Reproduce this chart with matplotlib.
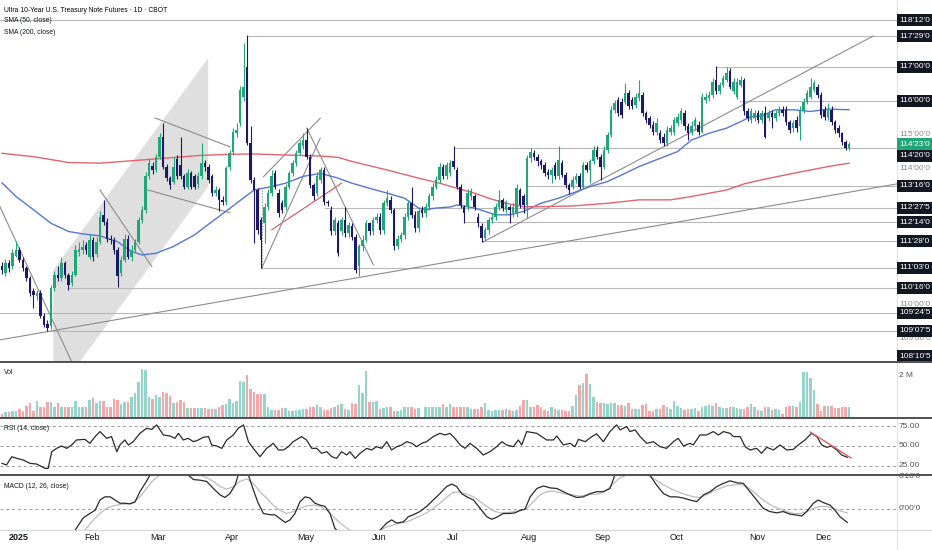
import matplotlib
matplotlib.use("Agg")
import matplotlib.pyplot as plt
import numpy as np
from matplotlib.lines import Line2D
from matplotlib.transforms import blended_transform_factory

plt.rcParams['font.family'] = ['Liberation Sans Narrow', 'Liberation Sans', 'DejaVu Sans']

# ---------------- data ----------------
opens = [111.13,110.93,111.23,111.13,111.45,111.62,111.33,111.08,110.79,110.40,110.25,110.35,109.66,109.45,109.37,110.49,110.89,110.79,111.23,110.89,
 110.64,110.89,111.55,111.62,111.75,111.42,111.90,111.50,111.85,112.65,112.45,111.95,111.90,111.62,110.94,111.33,111.95,111.42,111.62,111.85,
 112.50,112.80,113.78,114.10,113.97,114.36,114.95,114.07,113.73,113.63,114.30,114.12,113.78,113.48,113.87,113.78,113.55,113.78,114.17,114.07,
 113.78,113.29,113.38,113.09,113.04,114.07,114.50,115.05,115.35,116.13,117.01,114.76,113.68,113.38,112.50,112.40,112.89,113.29,113.87,113.29,
 112.99,112.89,113.48,113.87,114.17,114.46,114.66,114.85,114.36,113.53,113.29,113.68,113.97,113.04,112.80,112.16,112.40,112.16,112.50,112.11,
 112.31,112.01,111.13,111.72,111.91,112.40,112.16,112.50,112.60,112.21,113.00,113.09,112.80,111.72,111.95,112.05,112.60,112.99,112.65,112.25,
 112.80,112.70,112.89,113.19,113.48,113.68,114.07,113.78,113.87,114.22,113.97,113.48,112.89,112.89,113.19,113.19,112.60,112.31,111.96,112.21,
 112.50,112.60,112.89,113.09,112.80,112.89,112.70,112.70,113.38,113.19,112.94,114.31,114.46,114.36,114.22,114.12,113.92,113.82,114.12,113.78,
 114.17,113.82,113.53,113.48,113.68,113.78,113.48,114.12,113.97,114.22,114.56,114.36,114.07,114.56,115.00,115.74,116.03,115.98,115.98,116.23,
 116.03,115.88,116.08,116.18,115.64,115.49,115.30,115.10,115.05,114.95,114.76,115.10,115.10,115.35,115.44,115.64,115.25,115.10,115.25,115.30,
 115.10,116.03,116.08,116.18,116.62,116.28,116.47,116.62,116.87,116.28,116.13,116.47,116.62,115.69,115.44,115.49,115.64,115.44,115.64,115.49,
 115.64,115.49,115.64,115.74,115.74,115.39,115.20,115.45,115.25,115.74,115.98,116.13,116.33,116.42,116.18,115.74,115.54,115.74,115.39,115.20,
 115.05,114.80,114.61]
highs = [111.25,111.35,111.33,111.65,111.88,111.70,111.40,111.15,110.85,110.50,110.45,110.45,109.75,109.55,110.60,111.00,111.15,111.40,111.30,110.95,
 111.00,111.75,111.85,111.90,111.85,112.10,112.00,112.00,112.75,113.09,112.55,112.05,112.00,111.70,111.45,112.10,112.05,111.75,111.95,112.60,
 112.90,113.90,114.30,114.20,114.45,115.05,115.35,114.15,113.80,114.36,114.40,114.95,113.85,114.00,113.95,113.85,113.90,114.76,114.25,114.15,
 113.85,113.50,113.45,113.20,114.10,114.56,115.20,115.35,116.45,117.70,117.94,115.25,113.75,113.45,112.60,113.00,113.40,113.97,113.97,113.40,
 113.10,113.55,113.95,114.25,114.56,114.85,115.05,115.20,114.45,113.60,113.90,114.07,114.05,113.10,112.90,112.60,112.50,112.60,112.89,112.45,
 112.40,112.10,111.80,112.05,112.50,112.45,112.60,112.70,112.70,113.10,113.38,113.20,112.85,112.05,112.15,112.70,113.10,113.48,112.75,112.85,
 112.90,113.00,113.30,113.58,113.78,114.17,114.15,114.20,114.25,114.66,114.05,113.55,112.95,113.40,113.45,113.25,112.70,112.40,112.30,112.60,
 112.70,113.00,113.38,113.15,113.10,112.95,113.00,113.55,113.45,113.25,114.40,114.61,114.56,114.45,114.30,114.20,114.00,114.05,114.20,114.66,
 114.25,113.90,113.60,113.78,113.87,113.87,114.20,114.20,114.30,114.66,114.66,114.45,114.66,115.10,115.84,116.03,116.13,116.08,116.52,116.33,
 116.13,116.23,116.62,116.25,115.70,115.55,115.40,115.50,115.15,115.05,115.25,115.30,115.54,115.64,115.79,115.74,115.35,115.40,115.54,115.40,
 116.23,116.23,116.28,116.67,117.03,116.57,116.77,116.99,116.97,116.67,116.67,116.72,116.67,115.79,115.79,115.74,115.74,115.74,115.84,115.74,
 115.74,115.74,115.84,115.84,115.84,115.45,115.45,115.55,115.84,116.08,116.33,116.67,116.62,116.50,116.25,115.84,115.93,115.84,115.45,115.30,
 115.10,114.85,114.78]
lows = [110.90,110.85,110.98,111.05,111.40,111.25,111.00,110.70,110.25,109.90,110.15,109.60,109.35,109.22,109.30,110.40,110.70,110.70,110.80,110.45,
 110.55,110.85,111.45,111.50,111.50,111.35,111.30,111.40,111.80,112.35,111.85,111.80,111.50,110.54,110.85,111.25,111.35,111.30,111.55,111.80,
 112.40,112.70,113.70,113.85,113.90,114.30,114.00,113.65,113.40,113.55,113.70,113.70,113.40,113.40,113.40,113.40,113.45,113.70,113.95,113.60,
 113.20,113.20,112.75,112.95,112.95,113.97,114.40,114.95,115.25,116.00,114.70,113.60,111.82,112.10,111.09,111.82,112.80,113.20,113.40,112.60,
 112.70,112.80,113.40,113.80,114.10,114.40,114.60,114.30,113.45,113.10,113.20,113.60,112.95,112.90,112.05,112.05,111.45,112.05,112.00,112.00,
 111.90,110.95,110.84,111.60,111.85,112.05,112.05,112.40,112.10,112.10,112.90,112.70,111.62,111.65,111.85,111.95,112.50,112.55,112.15,112.15,
 112.60,112.60,112.80,113.10,113.40,113.60,113.70,113.70,113.80,114.00,113.40,112.85,112.42,112.80,113.10,112.80,112.30,111.86,111.90,112.10,
 112.40,112.50,112.80,112.75,112.70,112.40,112.60,112.60,112.85,112.70,112.55,114.20,114.25,114.10,114.00,113.80,113.70,113.58,113.70,113.70,
 113.75,113.45,113.25,113.40,113.60,113.40,113.40,113.90,113.60,114.15,114.30,113.68,114.00,114.46,114.95,115.64,115.55,115.50,115.90,115.75,
 115.75,115.80,116.00,115.55,115.35,115.20,115.00,115.00,114.75,114.66,114.66,115.00,115.00,115.25,115.35,115.15,114.85,115.00,115.15,115.00,
 115.05,115.95,116.00,116.10,116.20,116.20,116.40,116.55,116.35,116.20,116.05,116.40,115.60,115.40,115.35,115.40,115.35,115.35,114.90,115.40,
 115.20,115.40,115.55,115.55,115.30,115.05,115.10,115.10,114.85,115.65,115.90,116.05,116.25,116.10,115.50,115.45,115.45,115.30,115.05,114.95,
 114.70,114.55,114.55]
closes = [111.03,111.23,111.08,111.52,111.62,111.33,111.08,110.79,110.35,110.30,110.35,109.66,109.42,109.32,110.49,110.89,110.79,111.23,110.89,110.59,
 110.89,111.62,111.65,111.70,111.62,111.90,111.42,111.85,112.60,112.45,111.95,111.90,111.62,110.84,111.33,111.95,111.42,111.62,111.85,112.50,
 112.80,113.78,114.17,113.97,114.36,114.95,114.07,113.73,113.53,114.07,113.78,113.78,113.48,113.87,113.48,113.48,113.78,114.17,114.07,113.68,
 113.29,113.38,113.09,113.04,114.02,114.46,115.10,115.15,116.33,116.42,114.76,113.68,113.38,112.21,111.91,112.89,113.29,113.78,113.48,112.70,
 112.80,113.48,113.87,114.17,114.46,114.76,114.85,114.36,113.53,113.19,113.78,113.97,113.04,112.99,112.16,112.50,111.52,112.50,112.11,112.35,
 112.01,111.03,111.72,111.91,112.40,112.16,112.50,112.60,112.21,113.00,113.15,112.80,111.72,111.95,112.05,112.60,112.99,112.65,112.25,112.75,
 112.70,112.89,113.19,113.48,113.68,114.07,113.78,114.12,114.17,114.07,113.48,112.94,112.70,113.29,113.34,112.89,112.40,111.96,112.21,112.50,
 112.60,112.89,113.09,112.85,113.04,112.80,112.89,113.43,112.94,112.94,114.31,114.51,114.36,114.22,114.12,113.87,113.82,113.97,113.78,114.27,
 113.82,113.53,113.38,113.68,113.78,113.48,114.12,113.97,114.22,114.56,114.36,114.07,114.56,115.00,115.74,115.93,115.64,115.59,116.23,115.84,
 115.84,116.13,116.23,115.64,115.44,115.30,115.10,115.35,114.85,114.76,115.15,115.20,115.44,115.54,115.69,115.25,115.05,115.25,115.44,115.10,
 116.13,116.13,116.18,116.57,116.28,116.47,116.67,116.82,116.42,116.57,116.57,116.62,115.69,115.49,115.69,115.64,115.44,115.64,114.95,115.64,
 115.54,115.64,115.74,115.64,115.39,115.15,115.35,115.20,115.74,115.98,116.23,116.42,116.52,116.18,115.59,115.54,115.74,115.39,115.15,115.05,
 114.80,114.61,114.72]
volume_m = [0.19,0.27,0.27,0.35,0.35,0.43,0.35,0.58,0.69,0.31,0.82,0.50,0.50,0.74,0.74,0.50,0.69,0.50,0.54,0.50,
 0.50,0.79,0.50,0.54,0.54,0.85,0.95,0.69,0.82,0.79,0.54,0.54,0.90,0.85,0.66,0.74,0.74,0.98,1.18,1.69,
 2.32,2.24,0.98,0.90,1.09,0.98,1.20,1.17,1.01,0.69,0.74,0.85,0.74,0.47,0.47,0.47,0.47,0.47,0.47,0.43,
 0.43,0.43,0.50,0.63,0.66,0.90,0.69,0.82,1.72,1.69,2.03,1.37,1.21,1.13,1.13,1.13,0.54,0.38,0.38,0.38,
 0.47,0.47,0.35,0.35,0.38,0.39,0.43,0.43,0.50,0.50,0.61,0.50,0.38,0.38,0.47,0.50,0.63,0.66,0.43,0.38,
 0.69,0.66,1.56,1.17,2.21,0.74,0.74,0.82,0.43,0.47,0.54,0.54,0.35,0.35,0.38,0.54,0.54,0.54,0.43,0.47,
 0.02,0.50,0.50,0.50,0.54,0.50,0.66,0.50,0.66,0.50,0.50,0.50,0.50,0.50,0.43,0.43,0.43,0.54,0.69,0.39,
 0.35,0.38,0.39,0.39,0.43,0.38,0.35,0.38,0.58,0.85,0.85,0.50,0.50,0.63,0.50,0.38,0.31,0.50,0.43,0.38,
 0.38,0.35,0.35,0.58,1.06,1.53,1.65,2.08,1.61,0.98,0.74,0.71,0.71,0.66,0.71,0.71,0.61,0.61,0.58,0.69,
 0.43,0.43,0.43,0.61,0.66,0.35,0.35,0.43,0.43,0.63,0.50,0.43,0.82,0.58,0.47,0.38,0.43,0.43,0.46,0.35,
 0.54,0.58,0.63,0.58,0.71,0.54,0.46,0.46,0.50,0.50,0.46,0.43,0.43,0.50,0.66,0.54,0.38,0.31,0.50,0.50,
 0.38,0.43,0.39,0.19,0.50,0.55,0.58,0.50,0.74,2.16,2.16,1.89,1.32,0.66,0.35,0.58,0.57,0.57,0.46,0.46,
 0.50,0.50,0.50]

sma50_idx = [0,4,9,14,19,23,28,33,37,40,44,49,55,60,62,67,72,77,81,86,91,96,100,105,110,115,119,121,124,128,130,135,138,141,145,149,154,159,163,168,173,177,182,187,
             193,197,202,207,211,214,217,221,226,231,236,242]
sma50_val = [113.59,113.19,112.80,112.40,112.16,112.09,112.03,111.86,111.57,111.47,111.52,111.72,112.06,112.45,112.60,112.99,113.38,113.48,113.58,113.78,113.87,113.73,113.58,113.43,113.29,113.14,112.85,112.80,112.85,112.88,112.94,112.85,112.75,112.65,112.65,112.75,112.99,113.14,113.29,113.48,113.63,113.82,114.07,114.27,
             114.51,114.85,115.05,115.20,115.39,115.54,115.56,115.74,115.74,115.69,115.76,115.74]
sma200_idx = [0,9,19,28,37,47,57,65,72,81,91,96,100,110,119,125,130,135,139,144,149,154,163,173,182,191,197,207,212,217,226,236,242]
sma200_val = [114.46,114.36,114.19,114.17,114.24,114.32,114.40,114.43,114.44,114.41,114.38,114.34,114.22,113.97,113.73,113.58,113.43,113.29,113.14,112.99,112.89,112.89,112.91,112.99,113.09,113.09,113.19,113.38,113.56,113.68,113.87,114.07,114.17]

rsi_idx = [0,1.3,2.8,4.2,6.1,8,9.9,12.3,13.2,14.2,15.6,17,18.5,19.9,21.3,23.7,25.1,26.6,28,29.9,31.3,32.8,33.7,35.1,36.1,37.5,39.4,41.3,42.8,44.2,46.1,48,49.4,50.4,51.8,53.2,54.7,56.1,57.5,59,59.9,61.3,62.8,64.2,66.1,67.5,69,70.4,71.8,73.7,75.6,77.5,79,80.4,81.8,83.2,85.6,87,88.5,89.9,91.3,92.8,94.2,95.6,97,98.5,99.4,100.9,102.3,104.2,105.6,107,108.5,109.9,111.3,112.8,114.2,115.6,117.1,118.5,119.9,121.3,123.2,125.1,126.6,128,129.4,130.9,132.3,133.7,135.6,137.5,139.4,141.3,142.8,144.2,146.1,147.5,148.5,149.9,152.8,155.6,157.5,158.5,160.4,162.3,163.7,164.7,166.6,168.5,169.9,171.8,173.7,175.6,176.6,178.5,179.4,180.9,182.3,184.2,186.1,188,189.9,191.8,193.2,194.7,196.6,197.5,199.4,201.3,203.2,204.7,206.1,208,209,210.9,212.3,213.7,215.6,217,218.5,220.4,222.3,224.2,226.1,227.5,229.4,231.3,232.8,234.2,235.6,237,238.5,239.9,241.5]
rsi_val = [27.8,25.7,36.3,34.2,32.0,27.8,26.9,21.4,21.4,42.7,47.0,50.0,47.0,51.3,57.7,58.5,53.4,62.0,68.4,59.8,62.0,42.7,51.3,57.7,51.3,55.5,66.2,72.6,71.3,77.0,64.1,62.8,59.8,66.2,57.7,59.8,55.5,57.7,61.1,62.0,51.3,50.0,47.0,57.7,64.1,72.6,77.0,55.5,47.0,36.3,47.0,53.4,44.9,44.9,49.1,55.5,62.0,57.7,47.0,47.0,40.6,42.7,36.3,34.2,42.7,38.5,42.7,34.2,40.6,47.0,44.9,49.1,47.0,55.5,44.9,49.1,51.3,55.5,53.4,49.1,53.4,55.5,62.0,66.2,64.1,66.2,59.8,51.3,47.0,53.4,47.0,38.5,42.7,49.1,55.5,51.3,49.1,57.7,51.3,68.4,66.2,57.7,57.7,62.8,51.3,53.4,49.1,58.5,55.5,62.0,65.5,55.5,68.4,77.0,70.6,74.8,68.4,70.6,62.0,53.4,55.5,49.1,47.0,55.5,59.8,50.0,53.4,51.3,64.1,64.1,68.4,64.1,68.4,66.2,62.0,62.0,49.1,44.9,47.0,40.6,48.3,44.9,51.3,44.9,45.7,51.3,57.7,66.2,62.0,51.3,48.3,50.0,44.9,38.5,35.5]

macd_idx = [0,10,17,20.9,23.2,25.1,26.6,28,29.4,30.9,32.3,33.7,35.1,36.6,38,39.4,40.9,42.3,46,50,53.2,54.7,56.6,58.5,60.4,62.3,63.7,65.1,66.6,67.5,69,70.4,71.8,73.2,74.7,76.6,78,79.4,80.9,82.3,83.7,85.1,86.6,88,89.4,90.9,92.3,93.7,95.1,95.6,100,104,108,109.9,111.3,112.8,114.7,116.1,117.5,119.4,121.3,123.2,125.1,127,128.5,129.9,131.3,132.8,134.7,136.6,138.5,139.9,141.3,143.2,145.1,146.6,148,149.4,150.9,152.8,154.7,156.6,158.5,160.4,162.3,164.2,166.1,168,169.9,171.8,173.7,175.1,178,182,185.1,187,189,190.9,192.8,194.7,196.6,198.5,200.4,202.3,204.2,206.1,208,209.9,211.8,213.7,215.6,217.5,219.4,221.3,223.2,225.1,227.1,228.5,229.9,231.8,233.2,234.7,236.6,238,239.4,241.5]
macd_val = [-0.95,-0.75,-0.5,-0.33,-0.14,-0.07,-0.02,0.14,0.19,0.19,0.14,0.09,0.09,0.08,0.11,0.27,0.40,0.53,0.70,0.66,0.53,0.46,0.45,0.43,0.32,0.22,0.18,0.24,0.375,0.53,0.62,0.53,0.30,0.09,-0.07,-0.09,-0.09,-0.15,-0.21,-0.17,-0.07,0.11,0.19,0.17,0.09,0.06,0.04,-0.07,-0.30,-0.33,-0.48,-0.46,-0.33,-0.22,-0.17,-0.22,-0.20,-0.12,-0.09,-0.04,0.04,0.14,0.24,0.35,0.39,0.35,0.24,0.19,0.14,0.01,-0.12,-0.16,-0.13,-0.07,-0.07,-0.06,-0.02,-0.005,0.19,0.32,0.36,0.33,0.32,0.27,0.22,0.18,0.19,0.24,0.27,0.27,0.32,0.53,0.75,0.68,0.53,0.375,0.24,0.19,0.19,0.17,0.14,0.115,0.22,0.27,0.35,0.40,0.44,0.41,0.40,0.27,0.14,0.01,-0.04,-0.06,-0.04,-0.08,-0.095,-0.11,-0.04,0.09,0.14,0.10,0.06,-0.02,-0.12,-0.21]
signal_idx = [0,10,18,23.7,26.1,28,29.9,31.8,33.7,35.6,37.5,39.4,41.3,43.2,45.1,50,56.6,58.5,60.4,62.3,64.2,66.1,68,69.9,71.8,73.7,75.6,77.5,79.4,81.3,83.2,85.1,87.1,89,90.9,92.8,94.7,96.6,98.5,99.4,104,108,109.9,111.8,113.7,115.6,117.5,119.4,121.3,123.2,125.1,127,128.9,130.9,132.8,134.7,136.6,138.5,140.4,142.3,144.2,146.1,148,149.9,151.8,153.7,155.6,157.5,159.4,161.3,163.2,165.1,167.1,169,170.9,172.8,174.7,176.6,178.5,182,184.2,186.1,188,189.9,191.8,193.7,195.6,197.5,199.4,201.3,203.2,205.1,207,208.9,210.9,212.8,214.7,216.6,218.5,220.4,222.3,224.2,226.1,228.1,230,231.8,233.7,235.6,237.5,239.4,241.5]
signal_val = [-0.9,-0.8,-0.55,-0.33,-0.17,-0.07,0.01,0.05,0.07,0.08,0.10,0.19,0.32,0.45,0.53,0.65,0.53,0.49,0.43,0.35,0.31,0.35,0.43,0.47,0.40,0.27,0.17,0.06,-0.02,-0.07,-0.04,0.01,0.05,0.06,0.04,-0.02,-0.12,-0.22,-0.30,-0.33,-0.42,-0.33,-0.28,-0.25,-0.22,-0.20,-0.16,-0.11,-0.06,0.01,0.09,0.18,0.26,0.27,0.23,0.19,0.115,0.04,-0.03,-0.06,-0.06,-0.04,-0.03,0.01,0.11,0.22,0.27,0.28,0.255,0.23,0.22,0.20,0.22,0.23,0.24,0.30,0.40,0.49,0.53,0.62,0.53,0.48,0.41,0.35,0.30,0.255,0.22,0.19,0.18,0.22,0.28,0.32,0.36,0.375,0.385,0.35,0.27,0.18,0.10,0.04,0.00,-0.04,-0.07,-0.07,-0.04,0.01,0.04,0.04,0.01,-0.03,-0.06]

# horizontal price levels drawn on the chart: (start bar, price, label)
level_start = [-1, 70, 204, 210.5, 129, 150, 92, 132, 137, 74, 19, -1, 13, -1]
level_price = [118.375, 117.906, 117.0, 116.0, 114.625, 113.5, 112.859, 112.4375, 111.875, 111.094, 110.5, 109.766, 109.234, 108.328]
level_label = ["118'12'0", "117'29'0", "117'00'0", "116'00'0", "114'20'0", "113'16'0", "112'27'5", "112'14'0",
               "111'28'0", "111'03'0", "110'16'0", "109'24'5", "109'07'5", "108'10'5"]
last_price_label = "114'23'0"
price_ticks = [109, 110, 111, 112, 113, 114, 115, 116, 117, 118]

# trend lines: (x0, y0, x1, y1, color, style)
trend_lines = [
    (-0.6, 112.89, 19.9, 108.33, 'gray', '-'),
    (-0.6, 108.97, 255.7, 113.56, 'gray', '-'),
    (137.4, 111.85, 248.9, 117.91, 'gray', '-'),
    (43.7, 115.50, 65.1, 114.65, 'gray', '-'),
    (41.7, 113.38, 65.1, 112.71, 'gray', '-'),
    (28.0, 113.38, 42.8, 111.13, 'gray', '-'),
    (74.7, 113.77, 90.9, 115.49, 'gray', '-'),
    (77.05, 112.21, 97.0, 113.58, 'red', '-'),
    (74.2, 111.08, 90.9, 114.90, 'gray', '-'),
    (87.1, 115.20, 106.1, 111.18, 'gray', '-'),
    (74.3, 113.38, 74.3, 111.09, 'gray', ':'),
]
channel_x = [14.66, 58.9, 58.9, 14.66]
channel_y = [111.03, 117.26, 113.48, 107.26]
rsi_trend = (230.9, 67.9, 242.6, 34.6)

month_labels = ['2025', 'Feb', 'Mar', 'Apr', 'May', 'Jun', 'Jul', 'Aug', 'Sep', 'Oct', 'Nov', 'Dec']
month_first_bar = [4, 25, 44, 65, 86, 107, 128, 150, 171, 192, 215, 234]

# ---------------- styling ----------------
W, H = 932, 550
UP, DN = '#22a677', '#1c1a66'
VUP, VDN = '#93d5ca', '#f5a6a6'
GRID = '#b8b8b8'
XMIN, XMAX = -0.57, 255.7

fig = plt.figure(figsize=(W / 100, H / 100), dpi=100)
fig.patch.set_facecolor('white')

def px_axes(x0, y0, x1, y1):
    a = fig.add_axes([x0 / W, 1 - y1 / H, (x1 - x0) / W, (y1 - y0) / H])
    a.set_xlim(XMIN, XMAX)
    for s in a.spines.values():
        s.set_visible(False)
    a.set_xticks([]); a.set_yticks([])
    a.patch.set_alpha(0)
    return a

ax = px_axes(0, 0, 897, 362)
axv = px_axes(0, 362, 897, 418)
axr = px_axes(0, 418, 897, 475)
axm = px_axes(0, 475, 897, 530)

ax.set_ylim(108.32, 118.97)
axv.set_ylim(0, 2.63)
axr.set_ylim(12.9, 85.8)
axm.set_ylim(-0.328, 0.531)

o = np.array(opens); h = np.array(highs); l = np.array(lows); c = np.array(closes)
idx = np.arange(len(c))
up = c >= o
col = np.where(up, UP, DN)

# channel + drawings
ax.fill(channel_x, channel_y, color='#dfdfdf', lw=0, zorder=1)
for s, p in zip(level_start, level_price):
    ax.hlines(p, s, XMAX, color=GRID, lw=0.8, zorder=2)
for x0, y0, x1, y1, cc, ls in trend_lines:
    ax.plot([x0, x1], [y0, y1], color={'gray': '#8c8c8c', 'red': '#e0505a'}[cc], lw=0.8, ls=ls, zorder=2)

# SMAs
ax.plot(sma50_idx, sma50_val, color='#5576d8', lw=1.0, zorder=3)
ax.plot(sma200_idx, sma200_val, color='#e2646e', lw=1.0, zorder=3)

# candles
ax.vlines(idx, l, h, colors=col, lw=0.8, zorder=4)
ax.bar(idx, np.maximum(np.abs(c - o), 0.025), bottom=np.minimum(o, c), width=0.7,
       color=col, lw=0, zorder=5)

# volume
axv.bar(idx, volume_m, width=0.78, color=np.where(up, VUP, VDN), lw=0)

# RSI
for lv in (75, 50, 25):
    axr.axhline(lv, color='#9a9a9a', lw=0.7, ls=(0, (3, 3)))
axr.plot(rsi_idx, rsi_val, color='#2a2a2a', lw=0.9)
axr.plot([rsi_trend[0], rsi_trend[2]], [rsi_trend[1], rsi_trend[3]], color='#e0505a', lw=0.9)

# MACD
axm.axhline(0, color='#9a9a9a', lw=0.7, ls=(0, (3, 3)))
axm.plot(signal_idx, signal_val, color='#bdbdbd', lw=0.9)
axm.plot(macd_idx, macd_val, color='#2a2a2a', lw=0.9)

# separators & right axis line
for ypx, cc, lw in ((362, '#505050', 1.4), (418, '#505050', 1.4), (475, '#505050', 1.4), (530, '#d6d6d6', 0.8)):
    fig.add_artist(Line2D([0, 1], [1 - ypx / H] * 2, transform=fig.transFigure, color=cc, lw=lw, zorder=10))
fig.add_artist(Line2D([897 / W] * 2, [0, 1], transform=fig.transFigure, color='#e0e3eb', lw=0.8, zorder=1))

# pane texts
TXT = '#131722'
FS = 4.9
fig.text(4 / W, 1 - 10 / H, 'Ultra 10-Year U.S. Treasury Note Futures · 1D · CBOT', fontsize=FS,
         color='#000000', va='center', ha='left')
fig.text(4 / W, 1 - 21 / H, 'SMA (50, close)', fontsize=FS, color=TXT, va='center')
fig.text(4 / W, 1 - 32 / H, 'SMA (200, close)', fontsize=FS, color=TXT, va='center')
fig.text(4 / W, 1 - 373 / H, 'Vol', fontsize=FS, color=TXT, va='center')
fig.text(4 / W, 1 - 429 / H, 'RSI (14, close)', fontsize=FS, color=TXT, va='center')
fig.text(4 / W, 1 - 486 / H, 'MACD (12, 26, close)', fontsize=FS, color=TXT, va='center')

# right axis: price ticks (gray) and level boxes
def fig_y(a, v):
    return fig.transFigure.inverted().transform(a.transData.transform((0, v)))[1]

AX_X = 899 / W
boxes = [(p, t, '#131722') for p, t in zip(level_price, level_label)]
boxes.append((closes[-1], last_price_label, UP))
pix = [(ax.transData.transform((0, p))[1], t, fc) for p, t, fc in boxes]
pix.sort(key=lambda z: -z[0])
placed = []
top_lim = H - 6
bot_lim = H - 356
for yv, t, fc in pix:
    yv = min(yv, top_lim)
    if placed and placed[-1][0] - yv < 11.2:
        yv = placed[-1][0] - 11.2
    yv = max(yv, bot_lim)
    placed.append((yv, t, fc))

for p in price_ticks:
    yp = ax.transData.transform((0, p))[1]
    if min(abs(yp - b[0]) for b in placed) < 7.5:
        continue  # hidden behind a level box, as on the reference
    fig.text(AX_X, yp / H, f"{p}'00'0", fontsize=6, color='#8a8d96', va='center', ha='left', zorder=5)

for yv, t, fc in placed:
    fig.text(AX_X, yv / H, t, fontsize=6, color='white', va='center', ha='left', zorder=6,
             bbox=dict(boxstyle='square,pad=0.3', fc=fc, ec='none'))

fig.text(AX_X, fig_y(axv, 2.0), '2 M', fontsize=6, color='#555', va='center')
for v in (75, 50, 25):
    fig.text(AX_X, fig_y(axr, v), f'{v}.00', fontsize=6, color='#555', va='center')
fig.text(AX_X, fig_y(axm, 0.5), "0'16'0", fontsize=6, color='#555', va='center')
fig.text(AX_X, fig_y(axm, 0.0), "0'00'0", fontsize=6, color='#555', va='center')

# date axis
tr = blended_transform_factory(axm.transData, fig.transFigure)
for lab, b in zip(month_labels, month_first_bar):
    axm.text(b + 0.7, 1 - 538 / H, lab, transform=tr, fontsize=6.5, color=TXT, ha='center', va='center',
             fontweight='bold' if lab == '2025' else 'normal', clip_on=False)

fig.savefig('out.png', dpi=100, facecolor='white')
